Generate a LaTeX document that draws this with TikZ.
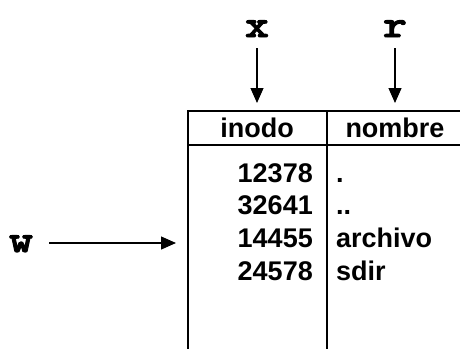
\documentclass[tikz,border=0pt]{standalone}
\usepackage{fontspec}
\setmainfont{Liberation Sans}
\newfontfamily\monobold{lmmonolt10-bold.otf}[FakeBold=2.5,FakeStretch=1.2]
\usetikzlibrary{arrows.meta}
\begin{document}
\begin{tikzpicture}[x=1pt,y=-1pt,
  tabletext/.style={font=\fontsize{27}{32}\selectfont\bfseries, inner sep=0pt},
  varname/.style={font=\monobold\fontsize{38}{40}\selectfont, inner sep=0pt, anchor=base},
  pointer/.style={line width=1.2pt, -{Triangle[length=15pt,width=13pt]}},
  rule/.style={line width=1.6pt}]
\useasboundingbox (0,0) rectangle (460,349);

% table frame (open to the right and bottom)
\coordinate (tl) at (188,111);
\coordinate (tr) at (460,111);
\coordinate (hl) at (188,145);
\coordinate (hr) at (460,145);
\coordinate (bl) at (188,349);
\coordinate (mt) at (327,111);
\coordinate (mb) at (327,349);
\draw[rule] (tr) -- (tl) -- (bl);
\draw[rule] (hl) -- (hr);
\draw[rule] (mt) -- (mb);

% headers
\node[tabletext, anchor=base] (hinodo) at (257,137) {inodo};
\node[tabletext, anchor=base] (hnombre) at (395,137) {nombre};

% entries
\node[tabletext, anchor=base east] (n1) at (313,182) {12378};
\node[tabletext, anchor=base east] (n2) at (313,214.7) {32641};
\node[tabletext, anchor=base east] (n3) at (313,247.3) {14455};
\node[tabletext, anchor=base east] (n4) at (313,280) {24578};
\node[tabletext, anchor=base west] (f1) at (336,182) {.};
\node[tabletext, anchor=base west] (f2) at (336,214.7) {..};
\node[tabletext, anchor=base west] (f3) at (336,247.3) {archivo};
\node[tabletext, anchor=base west] (f4) at (336,280) {sdir};

% pointer variables
\node[varname] (x) at (257,37) {x};
\node[varname] (r) at (395,37) {r};
\node[varname] (w) at (21,252) {w};

\coordinate (xs) at (257,48);
\coordinate (xe) at (257,103);
\coordinate (rs) at (395,48);
\coordinate (re) at (395,103);
\coordinate (ws) at (49,243);
\coordinate (we) at (176,243);
\draw[pointer] (xs) -- (xe);
\draw[pointer] (rs) -- (re);
\draw[pointer] (ws) -- (we);
\end{tikzpicture}
\end{document}
